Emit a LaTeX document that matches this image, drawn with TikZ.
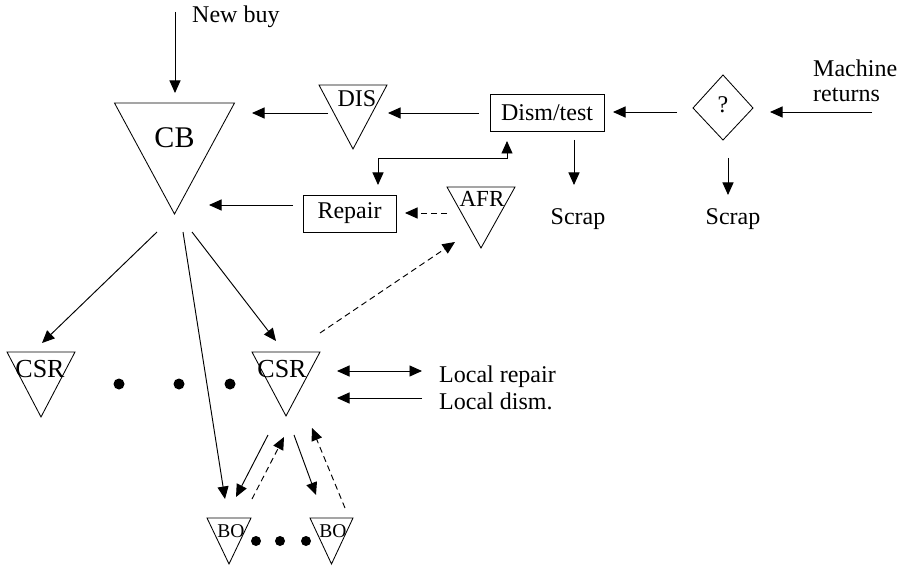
\documentclass[tikz,border=0pt]{standalone}
\usepackage{fontspec}
\setmainfont{Liberation Serif}
\usetikzlibrary{arrows.meta}

% inverted triangle (stock point): name, centre x, top y, half width, height
\newcommand\stocktri[5]{%
  \draw[store] (#2-#4,#3) -- (#2+#4,#3) -- (#2,#3+#5) -- cycle;
  \coordinate (#1) at (#2,#3+#5/2);}

\begin{document}
\begin{tikzpicture}[x=1pt,y=-1pt,
  tip/.tip={Triangle[length=12.5pt,width=11pt]},
  flow/.style={line width=0.95pt,-tip},
  both/.style={line width=0.95pt,tip-tip},
  back/.style={flow,dash pattern=on 6pt off 4pt},
  store/.style={line width=0.85pt},
  boxnode/.style={draw,line width=0.85pt,inner sep=0pt,font=\fontsize{24}{28}\selectfont},
  lbl/.style={inner sep=0pt,anchor=base,font=\fontsize{24}{28}\selectfont},
  lblw/.style={lbl,anchor=base west},
  dot/.style={circle,fill,inner sep=0pt}]

\useasboundingbox (0,0) rectangle (903,567);

% ---- stock points ----
\stocktri{cb}{174.5}{103}{60}{111}
\stocktri{dis}{353}{85}{34}{64}
\stocktri{afr}{481}{187}{34}{61}
\stocktri{csrl}{41}{352}{34}{65}
\stocktri{csrr}{286}{352}{34}{64}
\stocktri{bol}{229}{518}{22}{46}
\stocktri{bor}{331.5}{518}{21.5}{46}

\node[lbl,font=\fontsize{30}{34}\selectfont] (cbt) at (174.5,148) {CB};
\node[lbl] (dist) at (357,107) {DIS};
\node[lbl,font=\fontsize{23}{27}\selectfont] (afrt) at (482,207) {AFR};
\node[lbl,font=\fontsize{26}{30}\selectfont] (csrlt) at (40,377) {CSR};
\node[lbl,font=\fontsize{26}{30}\selectfont] (csrrt) at (282,377) {CSR};
\node[lbl,font=\fontsize{19.5}{23}\selectfont] (bolt) at (231,537) {BO};
\node[lbl,font=\fontsize{19.5}{23}\selectfont] (bort) at (333,537) {BO};

% ---- process boxes and decision ----
\node[boxnode,minimum width=114pt,minimum height=37pt] (dism) at (547,112.5) {Dism/test};
\node[boxnode,minimum width=93pt,minimum height=37pt] (repair) at (349.5,213.5) {Repair};
\coordinate (q) at (723,108);
\draw[store] (693,108) -- (723,75) -- (753,108) -- (723,140) -- cycle;
\node[lbl] (qt) at (723,113) {?};

% ---- free texts ----
\node[lblw] (newbuy) at (192,23) {New buy};
\node[lblw] (mach) at (813,77) {Machine};
\node[lblw] (ret) at (813,102) {returns};
\node[lbl] (scrap1) at (578,225) {Scrap};
\node[lbl] (scrap2) at (733,225) {Scrap};
\node[lblw] (lrep) at (439,382) {Local repair};
\node[lblw] (ldis) at (439,409) {Local dism.};

% ---- dots ----
\foreach \x in {119,179,230} \node[dot,minimum size=11pt] at (\x,384) {};
\foreach \x in {256,280,306} \node[dot,minimum size=10pt] at (\x,541) {};

% ---- connector end points ----
\coordinate (nb1) at (175,12);    \coordinate (nb2) at (175,93);
\coordinate (dc1) at (328,113);   \coordinate (dc2) at (252,113);
\coordinate (md1) at (479,113);   \coordinate (md2) at (388,113);
\coordinate (qm1) at (677,112);   \coordinate (qm2) at (613,112);
\coordinate (rq1) at (872,112);   \coordinate (rq2) at (770,112);
\coordinate (ms1) at (574,140);   \coordinate (ms2) at (574,185);
\coordinate (qs1) at (728,158);   \coordinate (qs2) at (728,195);
\coordinate (el1) at (378,185);   \coordinate (el2) at (378,158);
\coordinate (el3) at (507,158);   \coordinate (el4) at (507,141);
\coordinate (rc1) at (293,205);   \coordinate (rc2) at (209,205);
\coordinate (ar1) at (447,213);   \coordinate (ar2) at (405,213);
\coordinate (cl1) at (157,232);   \coordinate (cl2) at (42,343);
\coordinate (cb1) at (183,232);   \coordinate (cb2) at (225,499);
\coordinate (cr1) at (192,232);   \coordinate (cr2) at (276,341);
\coordinate (ca1) at (320,333);   \coordinate (ca2) at (455,242);
\coordinate (lr1) at (337,371);   \coordinate (lr2) at (422,371);
\coordinate (ld1) at (422,398);   \coordinate (ld2) at (337,398);
\coordinate (sb1) at (268,435);   \coordinate (sb2) at (236,497);
\coordinate (db1) at (252,499);   \coordinate (db2) at (284,437);
\coordinate (sr1) at (294,435);   \coordinate (sr2) at (316,495);
\coordinate (dr1) at (345,508);   \coordinate (dr2) at (312,428);

% ---- connectors ----
\draw[flow] (nb1) -- (nb2);
\draw[flow] (dc1) -- (dc2);
\draw[flow] (md1) -- (md2);
\draw[flow] (qm1) -- (qm2);
\draw[flow] (rq1) -- (rq2);
\draw[flow] (ms1) -- (ms2);
\draw[flow] (qs1) -- (qs2);
\draw[both] (el1) -- (el2) -- (el3) -- (el4);
\draw[flow] (rc1) -- (rc2);
\draw[back] (ar1) -- (ar2);
\draw[flow] (cl1) -- (cl2);
\draw[flow] (cb1) -- (cb2);
\draw[flow] (cr1) -- (cr2);
\draw[back] (ca1) -- (ca2);
\draw[both] (lr1) -- (lr2);
\draw[flow] (ld1) -- (ld2);
\draw[flow] (sb1) -- (sb2);
\draw[back] (db1) -- (db2);
\draw[flow] (sr1) -- (sr2);
\draw[back] (dr1) -- (dr2);

\end{tikzpicture}
\end{document}
